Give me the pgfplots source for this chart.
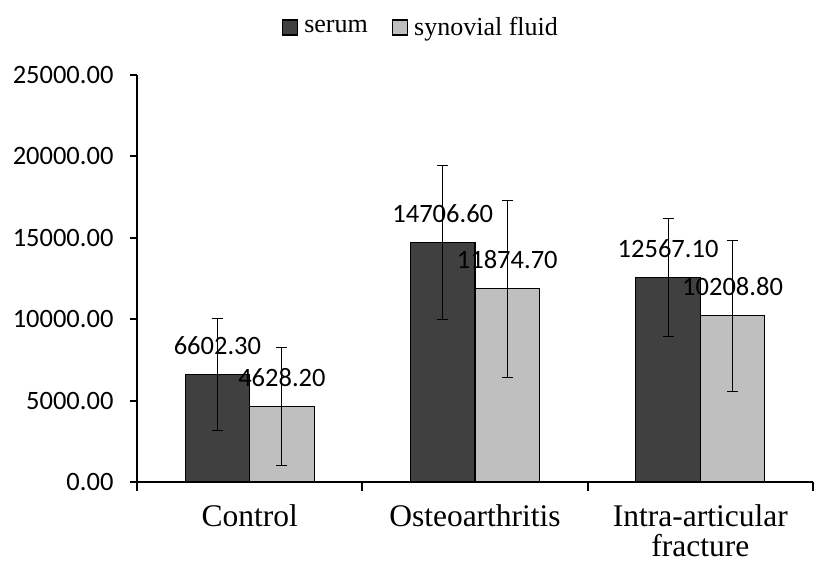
\documentclass[border=0pt]{standalone}
\usepackage{fontspec}
\setmainfont{Liberation Serif}
\newfontfamily\calibri{Carlito}
\usepackage{pgfplots}
\usepackage{pgfplotstable}
\pgfplotsset{compat=1.18}
\definecolor{serumc}{HTML}{404040}
\definecolor{sync}{HTML}{BFBFBF}
\pgfplotstableread{
x y e
0 6602.3 3450
1 14706.6 4710
2 12567.1 3624
}\serum
\pgfplotstableread{
x y e
0 4628.2 3615
1 11874.7 5445
2 10208.8 4650
}\synovial
\begin{document}
\begin{tikzpicture}[x=1pt,y=1pt]
\useasboundingbox (-137,-84) rectangle (680,482);
\begin{axis}[
  at={(0,0)}, anchor=south west,
  scale only axis, width=676pt, height=407pt,
  xmin=-0.5, xmax=2.5, ymin=0, ymax=25000,
  axis lines=left, axis line style={-, line width=2.2pt},
  ybar=0pt, bar width=64.5pt,
  /pgf/number format/assume math mode=true,
  scaled y ticks=false,
  xtick={0,1,2},
  xticklabels={Control,Osteoarthritis,{Intra-articular\\fracture}},
  xticklabel style={font=\fontsize{31.5}{30}\selectfont, align=center, yshift=-12pt},
  major x tick style={draw=none},
  minor xtick={-0.5,0.5,1.5,2.5},
  minor x tick style={draw=black, line width=2pt},
  minor tick length=9pt,
  ytick={0,5000,10000,15000,20000,25000},
  major tick length=7pt,
  y tick style={draw=black, line width=2pt},
  tick align=outside,
  yticklabel style={font=\calibri\fontsize{26.5}{28}\selectfont, xshift=-13pt,
    /pgf/number format/fixed, /pgf/number format/fixed zerofill,
    /pgf/number format/precision=2, /pgf/number format/1000 sep={}},
  nodes near coords={\pgfmathprintnumber[fixed,fixed zerofill,precision=2,1000 sep={}]{\pgfplotspointmeta}},
  nodes near coords style={font=\calibri\fontsize{26.5}{28}\selectfont, anchor=south, inner sep=0pt, yshift=19pt, text=black},
  legend style={at={(0.42,1.117)}, anchor=center, draw=none, fill=none,
    font=\fontsize{26}{28}\selectfont, legend columns=2,
    /tikz/every even column/.append style={column sep=22pt}},
  clip=false,
]
\addplot[fill=serumc, draw=black, line width=1.2pt,
  legend image code/.code={\draw[fill=serumc, draw=black, line width=1.5pt] (0pt,-7.5pt) rectangle (15pt,7.5pt); \path (19pt,0pt);},
  error bars/.cd, y dir=both, y explicit,
  error bar style={line width=1pt, black},
  error mark options={rotate=90, mark size=5.5pt, line width=1pt, black}]
  table[x=x, y=y, y error=e] {\serum};
\addlegendentry{serum}
\addplot[fill=sync, draw=black, line width=1.2pt,
  legend image code/.code={\draw[fill=sync, draw=black, line width=1.5pt] (0pt,-7.5pt) rectangle (15pt,7.5pt); \path (19pt,0pt);},
  error bars/.cd, y dir=both, y explicit,
  error bar style={line width=1pt, black},
  error mark options={rotate=90, mark size=5.5pt, line width=1pt, black}]
  table[x=x, y=y, y error=e] {\synovial};
\addlegendentry{synovial fluid}
\end{axis}
\end{tikzpicture}
\end{document}
